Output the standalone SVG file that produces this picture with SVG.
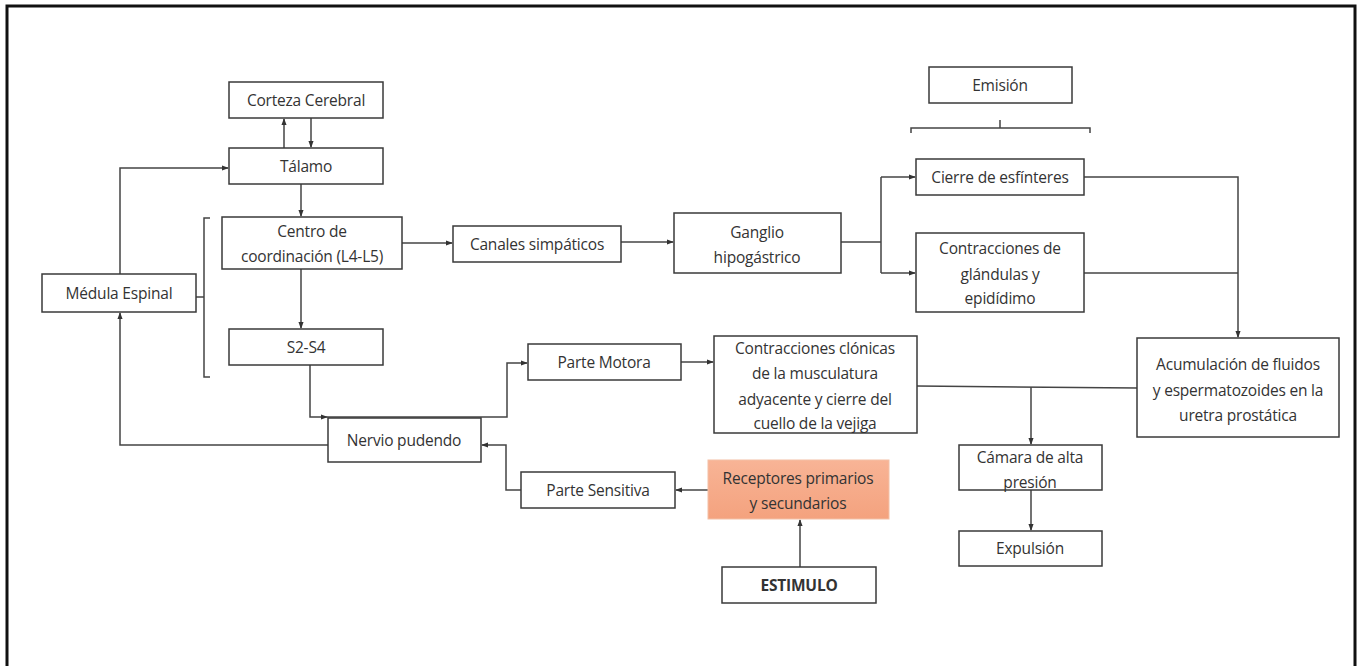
<svg xmlns="http://www.w3.org/2000/svg" width="1361" height="666" viewBox="0 0 1361 666">
<defs>
<marker id="ah" viewBox="0 0 8 8" refX="7" refY="4" markerWidth="7" markerHeight="7" markerUnits="userSpaceOnUse" orient="auto">
<path d="M0,1 L8,4 L0,7 Z" fill="#333"/>
</marker>
<linearGradient id="og" x1="0" y1="0" x2="0" y2="1">
<stop offset="0" stop-color="#F8B496"/>
<stop offset="1" stop-color="#F4A27E"/>
</linearGradient>
</defs>
<style>
.b{fill:#fff;stroke:#3a3a3a;stroke-width:1.5}
.t{font-family:"Open Sans","Liberation Sans",sans-serif;font-size:15.5px;fill:#333;text-anchor:middle;letter-spacing:-0.2px}
.c{fill:none;stroke:#444;stroke-width:1.5}
.a{marker-end:url(#ah)}
</style>
<rect x="0" y="0" width="1361" height="666" fill="#fff"/>
<rect x="7" y="6" width="1348" height="700" fill="none" stroke="#111" stroke-width="3"/>

<g id="connectors">
<path class="c a" d="M284,148 V119"/>
<path class="c a" d="M311,118 V147"/>
<path class="c a" d="M120,274 V168 H228"/>
<path class="c a" d="M301,184 V216"/>
<path class="c a" d="M301,269 V328"/>
<path class="c" d="M210,218 H204 V377 H210 M196,297 H204"/>
<path class="c a" d="M310,365 V417 H327"/>
<path class="c a" d="M327,417 H507 V363 H527"/>
<path class="c a" d="M328,445 H120 V313"/>
<path class="c a" d="M521,490 H506 V445 H482"/>
<path class="c a" d="M708,490 H676"/>
<path class="c a" d="M800,567 V520"/>
<path class="c a" d="M681,362 H713"/>
<path class="c a" d="M402,243 H452"/>
<path class="c a" d="M621,242 H673"/>
<path class="c" d="M841,242 H881 M881,177 V273"/>
<path class="c a" d="M881,177 H915"/>
<path class="c a" d="M881,273 H915"/>
<path class="c a" d="M1084,177 H1238 V337"/>
<path class="c" d="M1084,273 H1238"/>
<path class="c" d="M917,386 L1137,388"/>
<path class="c a" d="M1031,387 V444"/>
<path class="c a" d="M1031,490 V530"/>
<path class="c" d="M911,133 V128 H1090 V133 M1000,128 V120"/>
</g>

<g id="corteza"><rect class="b" x="229" y="82" width="154" height="36"/><text class="t" x="306" y="105.5">Corteza Cerebral</text></g>
<g id="talamo"><rect class="b" x="229" y="148" width="154" height="36"/><text class="t" x="306" y="171.5">Tálamo</text></g>
<g id="centro"><rect class="b" x="222" y="217" width="180" height="52"/><text class="t" x="312" y="237">Centro de</text><text class="t" x="312" y="262">coordinación (L4-L5)</text></g>
<g id="medula"><rect class="b" x="42" y="274" width="154" height="38"/><text class="t" x="119" y="298.5">Médula Espinal</text></g>
<g id="s2s4"><rect class="b" x="229" y="329" width="154" height="36"/><text class="t" x="306" y="352.5">S2-S4</text></g>
<g id="canales"><rect class="b" x="453" y="226" width="168" height="36"/><text class="t" x="537" y="249.5">Canales simpáticos</text></g>
<g id="ganglio"><rect class="b" x="674" y="213" width="167" height="60"/><text class="t" x="757" y="238">Ganglio</text><text class="t" x="757" y="263">hipogástrico</text></g>
<g id="emision"><rect class="b" x="929" y="67" width="143" height="36"/><text class="t" x="1000" y="90.5">Emisión</text></g>
<g id="cierre"><rect class="b" x="916" y="159" width="168" height="36"/><text class="t" x="1000" y="182.5">Cierre de esfínteres</text></g>
<g id="glandulas"><rect class="b" x="916" y="233" width="168" height="79"/><text class="t" x="1000" y="254">Contracciones de</text><text class="t" x="1000" y="280">glándulas y</text><text class="t" x="1000" y="304">epidídimo</text></g>
<g id="acumulacion"><rect class="b" x="1137" y="338" width="202" height="99"/><text class="t" x="1238" y="370">Acumulación de fluidos</text><text class="t" x="1238" y="396">y espermatozoides en la</text><text class="t" x="1238" y="421">uretra prostática</text></g>
<g id="nervio"><rect class="b" x="328" y="418" width="153" height="44"/><text class="t" x="404" y="445.5">Nervio pudendo</text></g>
<g id="motora"><rect class="b" x="528" y="344" width="153" height="36"/><text class="t" x="604" y="367.5">Parte Motora</text></g>
<g id="sensitiva"><rect class="b" x="521" y="472" width="154" height="36"/><text class="t" x="598" y="495.5">Parte Sensitiva</text></g>
<g id="clonicas"><rect class="b" x="714" y="336" width="203" height="97"/><text class="t" x="815" y="354">Contracciones clónicas</text><text class="t" x="815" y="379">de la musculatura</text><text class="t" x="815" y="405">adyacente y cierre del</text><text class="t" x="815" y="429">cuello de la vejiga</text></g>
<g id="receptores"><rect x="708" y="460" width="181" height="59" fill="url(#og)" stroke="#f3c0a6" stroke-width="1"/><text class="t" x="798" y="484">Receptores primarios</text><text class="t" x="798" y="509">y secundarios</text></g>
<g id="camara"><rect class="b" x="959" y="445" width="143" height="45"/><text class="t" x="1030" y="463">Cámara de alta</text><text class="t" x="1030" y="488">presión</text></g>
<g id="expulsion"><rect class="b" x="959" y="531" width="143" height="35"/><text class="t" x="1030" y="554">Expulsión</text></g>
<g id="estimulo"><rect class="b" x="722" y="567" width="154" height="36"/><text class="t" x="799" y="590.5" font-weight="bold">ESTIMULO</text></g>
</svg>
